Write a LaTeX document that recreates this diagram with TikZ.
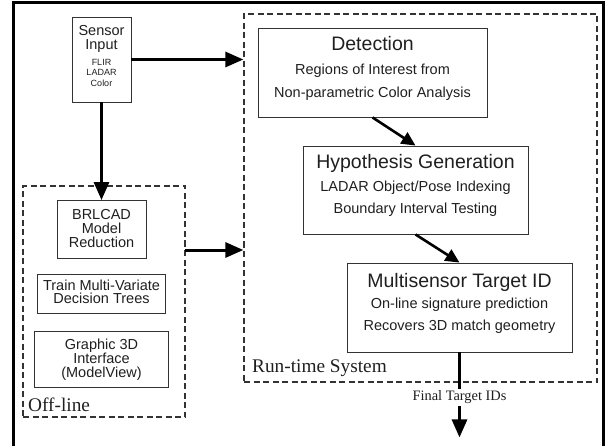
\documentclass[tikz,border=0pt]{standalone}
\usepackage{fontspec}
\setmainfont{Liberation Sans}
\newfontfamily\serifface{Liberation Serif}
\usetikzlibrary{arrows.meta}
\tikzset{box/.style={draw=black!80, line width=0.9pt, inner sep=0pt}}
\tikzset{area/.style={draw=black!80, line width=1.3pt, dash pattern=on 6pt off 3.5pt}}
\tikzset{boxtitle/.style={anchor=base, inner sep=0pt, text=black!88, font=\fontsize{19.5}{22}\selectfont}}
\tikzset{boxline/.style={anchor=base, inner sep=0pt, text=black!88, font=\fontsize{14.5}{16}\selectfont}}
\tikzset{tinyline/.style={anchor=base, inner sep=0pt, text=black!88, font=\fontsize{9}{10}\selectfont}}
\tikzset{grouplabel/.style={anchor=base west, inner sep=0pt, text=black!88, font=\serifface\fontsize{19.3}{22}\selectfont}}
\tikzset{feed/.style={line width=3pt, -{Triangle[length=18pt,width=15pt]}}}
\tikzset{hop/.style={line width=2.6pt, -{Triangle[length=14pt,width=13pt]}}}

\begin{document}
\begin{tikzpicture}[x=1pt, y=-1pt]
            \useasboundingbox (0,0) rectangle (607,446);
            % page frame, open at the bottom
            \draw[line width=3pt] (13.5,470) |- (603.5,2.5) -- (603.5,470);

            % sensors
            \node[box, minimum width=59pt, minimum height=85pt] (sensor) at (101.5,59.5) {};
            \node[boxline] (sensor-a) at (101.5,36) {Sensor};
            \node[boxline] (sensor-b) at (101.5,50) {Input};
            \node[tinyline] (flir) at (101.5,66) {FLIR};
            \node[tinyline] (ladar) at (101.5,76) {LADAR};
            \node[tinyline] (color) at (101.5,87) {Color};

            % off-line part
            \node[area, minimum width=162pt, minimum height=231pt] (offline) at (104,301.5) {};
            \node[grouplabel] (offline-l) at (28,411) {Off-line};
            \node[box, minimum width=89pt, minimum height=58pt] (brl) at (101.5,229.5) {};
            \node[boxline] (brl-a) at (101.5,220) {BRLCAD};
            \node[boxline] (brl-b) at (101.5,233.5) {Model};
            \node[boxline] (brl-c) at (101.5,247.5) {Reduction};
            \node[box, minimum width=128pt, minimum height=39pt] (train) at (101.5,294) {};
            \node[boxline] (train-a) at (101.5,290) {Train Multi-Variate};
            \node[boxline] (train-b) at (101.5,303.5) {Decision Trees};
            \node[box, minimum width=134pt, minimum height=56pt] (view) at (101.5,359.5) {};
            \node[boxline] (view-a) at (101.5,349) {Graphic 3D};
            \node[boxline] (view-b) at (101.5,363) {Interface};
            \node[boxline] (view-c) at (101.5,377) {(ModelView)};

            % run-time part
            \node[area, minimum width=353pt, minimum height=368pt] (runtime) at (420.5,198) {};
            \node[grouplabel] (runtime-l) at (252,372) {Run-time System};
            \node[box, minimum width=229pt, minimum height=89pt] (detect) at (372.5,72.5) {};
            \node[boxtitle] (detect-a) at (372.5,51) {Detection};
            \node[boxline] (detect-b) at (372.5,75) {Regions of Interest from};
            \node[boxline] (detect-c) at (372.5,97.5) {Non-parametric Color Analysis};
            \node[box, minimum width=225pt, minimum height=88pt] (hypo) at (415.5,190) {};
            \node[boxtitle] (hypo-a) at (415.5,168.5) {Hypothesis Generation};
            \node[boxline] (hypo-b) at (415.5,192) {LADAR Object/Pose Indexing};
            \node[boxline] (hypo-c) at (415.5,214) {Boundary Interval Testing};
            \node[box, minimum width=225pt, minimum height=89pt] (multi) at (459.5,307.5) {};
            \node[boxtitle] (multi-a) at (459.5,287) {Multisensor Target ID};
            \node[boxline] (multi-b) at (459.5,308.5) {On-line signature prediction};
            \node[boxline] (multi-c) at (459.5,330.5) {Recovers 3D match geometry};

            % connections
            \coordinate (link) at (185,250);
            \draw[feed] (sensor.east) -- (sensor.east -| runtime.west);
            \draw[feed] (sensor.south) -- (brl.north);
            \draw[feed] (link) -- (link -| runtime.west);
            \draw[hop] (detect.south) -- (hypo.north);
            \draw[hop] (hypo.south) -- (multi.north);
            \draw[feed] (multi.south) -- ++(0,85)
                node[pos=0.53, fill=white, inner sep=1.5pt, text=black!88, font=\serifface\fontsize{14.4}{16}\selectfont] (ids) {Final Target IDs};
        \end{tikzpicture}
\end{document}
